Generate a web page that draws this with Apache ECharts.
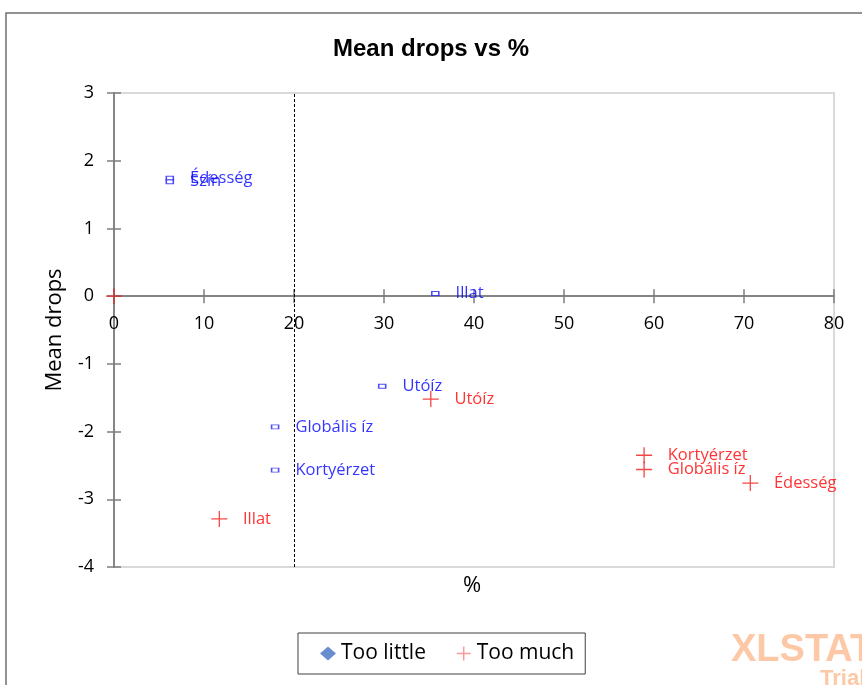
<!DOCTYPE html>
<html>
<head>
<meta charset="utf-8">
<script src="https://cdn.jsdelivr.net/npm/echarts@6/dist/echarts.min.js"></script>
<style>html,body{margin:0;padding:0;background:#fff}#c{width:862px;height:685px}</style>
</head>
<body>
<div id="c"></div>
<script>
// Data
var xTicks = [0, 10, 20, 30, 40, 50, 60, 70, 80];
var yTicks = [-4, -3, -2, -1, 0, 1, 2, 3];
var tooLittleNames = ['Édesség', 'Szín', 'Illat', 'Utóíz', 'Globális íz', 'Kortyérzet'];
var tooLittleX = [6.2, 6.2, 35.7, 29.8, 17.9, 17.9];
var tooLittleY = [1.74, 1.69, 0.04, -1.33, -1.93, -2.57];
var tooMuchNames = ['', 'Utóíz', 'Kortyérzet', 'Globális íz', 'Édesség', 'Illat'];
var tooMuchX = [0, 35.2, 58.9, 58.9, 70.7, 11.7];
var tooMuchY = [0, -1.52, -2.35, -2.56, -2.76, -3.29];
var refLineX = 20;

var plusPath = 'path://M0,5 L10,5 M5,0 L5,10';
var labelFont = "'Open Sans', 'Noto Sans', sans-serif";

function pts(xs, ys, names) {
  return xs.map(function (x, i) { return { value: [x, ys[i]], name: names[i] }; });
}

var gridTop = 93, gridBottom = 118, H = 685;
var yMin = -4, yMax = 3;
// distance of the y=0 line above the grid bottom, from the axis scale
var zeroOffset = -(H - gridTop - gridBottom) * (0 - yMin) / (yMax - yMin);

var chart = echarts.init(document.getElementById('c'));
var lineStyle = { color: '#7f7f7f', width: 1.5 };
chart.setOption({
  animation: false,
  title: {
    text: 'Mean drops vs %', left: 'center', top: 32,
    textStyle: { fontFamily: "'Liberation Sans Narrow', 'Liberation Sans', Arial, sans-serif", fontWeight: 'bold', fontSize: 24, color: '#000' }
  },
  grid: { left: 114, right: 28, top: gridTop, bottom: gridBottom, show: true, borderColor: '#d9d9d9', borderWidth: 2, containLabel: false },
  xAxis: [
    {
      type: 'value', min: 0, max: 80, interval: 10, position: 'bottom', offset: zeroOffset,
      axisLine: { onZero: false, lineStyle: lineStyle },
      axisTick: { show: true, length: 7, inside: false, lineStyle: lineStyle },
      axisLabel: { margin: 19, fontSize: 18, color: '#000', fontFamily: labelFont, showMinLabel: true, showMaxLabel: true },
      splitLine: { show: false }
    },
    {
      type: 'value', min: 0, max: 80, interval: 10, position: 'bottom', offset: zeroOffset,
      axisLine: { onZero: false, lineStyle: lineStyle },
      axisTick: { show: true, length: 7, inside: true, lineStyle: lineStyle },
      axisLabel: { show: false },
      splitLine: { show: false }
    }
  ],
  yAxis: [
    {
      type: 'value', min: yMin, max: yMax, interval: 1,
      name: 'Mean drops', nameLocation: 'middle', nameGap: 48,
      nameTextStyle: { fontSize: 22, color: '#000', fontFamily: labelFont },
      axisLine: { onZero: false, lineStyle: lineStyle },
      axisTick: { show: true, length: 7, inside: false, lineStyle: lineStyle },
      axisLabel: { margin: 20, fontSize: 18, color: '#000', fontFamily: labelFont },
      splitLine: { show: false }
    },
    {
      type: 'value', min: yMin, max: yMax, interval: 1, position: 'left',
      axisLine: { onZero: false, lineStyle: lineStyle },
      axisTick: { show: true, length: 7, inside: true, lineStyle: lineStyle },
      axisLabel: { show: false },
      splitLine: { show: false }
    }
  ],
  legend: {
    left: 298, top: 633, orient: 'horizontal',
    padding: [10, 11, 10, 22], itemGap: 30, itemWidth: 16, itemHeight: 14,
    borderColor: '#404040', borderWidth: 1,
    textStyle: { fontSize: 21, color: '#000', fontFamily: labelFont },
    data: [
      { name: 'Too little', icon: 'diamond', itemStyle: { color: '#4472C4', borderColor: '#4472C4', borderWidth: 0 } },
      { name: 'Too much', icon: plusPath, itemStyle: { color: 'transparent', borderColor: '#ff7f7f', borderWidth: 1.5 } }
    ]
  },
  series: [
    {
      name: 'Too little', type: 'scatter', xAxisIndex: 0, yAxisIndex: 0,
      symbol: 'rect', symbolSize: [7, 4],
      itemStyle: { color: '#fff', borderColor: '#2020f5', borderWidth: 1.2 },
      label: { show: true, position: 'right', distance: 16, formatter: '{b}', color: '#0000ff', fontSize: 16.5, fontFamily: labelFont },
      data: pts(tooLittleX, tooLittleY, tooLittleNames),
      markLine: {
        silent: true, symbol: 'none', animation: false,
        label: { show: false },
        lineStyle: { color: '#000', type: [3, 2], width: 1 },
        data: [{ xAxis: refLineX }]
      }
    },
    {
      name: 'Too much', type: 'scatter', xAxisIndex: 0, yAxisIndex: 0,
      symbol: plusPath, symbolSize: 16,
      itemStyle: { color: 'transparent', borderColor: '#f01818', borderWidth: 1.3 },
      label: { show: true, position: 'right', distance: 15, formatter: '{b}', color: '#ff0000', fontSize: 16.5, fontFamily: labelFont },
      data: pts(tooMuchX, tooMuchY, tooMuchNames)
    }
  ],
  graphic: [
    { type: 'rect', shape: { x: 6, y: 13, width: 900, height: 700 }, style: { fill: 'none', stroke: '#6f6f6f', lineWidth: 1.5 }, silent: true },
    { type: 'text', left: 463, top: 575, style: { text: '%', fontSize: 22, fill: '#000', fontFamily: labelFont } },
    { type: 'text', left: 731, top: 632, style: { text: 'XLSTAT', fontSize: 38, fontWeight: 'bold', fill: '#fcc8a6', fontFamily: "'Liberation Sans', Arial, sans-serif" } },
    { type: 'text', left: 820, top: 668, style: { text: 'Trial', fontSize: 22, fontWeight: 'bold', fill: '#fcc8a6', fontFamily: "'Liberation Sans', Arial, sans-serif" } }
  ]
});
</script>
</body>
</html>
